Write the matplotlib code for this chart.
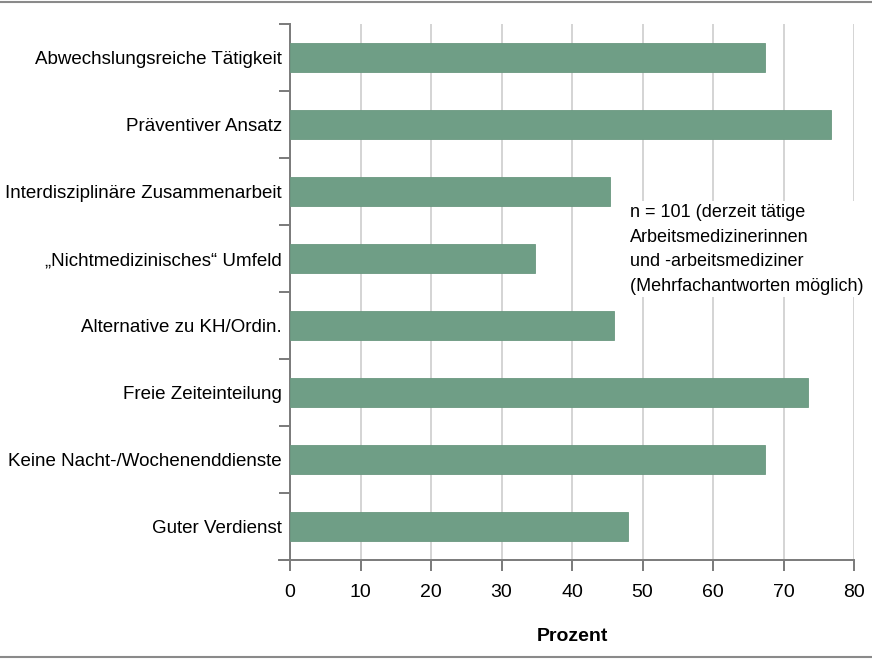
import numpy as np
import matplotlib.pyplot as plt
from matplotlib.lines import Line2D
from matplotlib.ticker import FixedLocator

plt.rcParams['font.family'] = ['Liberation Sans', 'DejaVu Sans']

# data
categories = ["Abwechslungsreiche Tätigkeit", "Präventiver Ansatz",
              "Interdisziplinäre Zusammenarbeit", "\u201eNichtmedizinisches\u201c Umfeld",
              "Alternative zu KH/Ordin.", "Freie Zeiteinteilung",
              "Keine Nacht-/Wochenenddienste", "Guter Verdienst"]
prozent = [67.4, 76.8, 45.4, 34.8, 45.9, 73.5, 67.4, 47.9]
xticks = [0, 10, 20, 30, 40, 50, 60, 70, 80]

bar_color = '#6f9e86'
spine_color = '#7a7a7a'
grid_color = '#d4d4d4'

fig = plt.figure(figsize=(8.72, 6.6), dpi=100)
ax = fig.add_axes([290/872, 1 - 560/660, 564/872, 536/660])

y = np.arange(len(categories))
ax.barh(y, prozent, height=0.42, color=bar_color, edgecolor='#6a9880', linewidth=0.6, zorder=3)

ax.set_xlim(0, 80)
ax.set_ylim(len(categories) - 0.5, -0.5)

ax.set_xticks(xticks)
ax.set_xticklabels([str(t) for t in xticks], fontsize=14)
ax.xaxis.grid(True, color=grid_color, linewidth=1.4, zorder=0)
ax.tick_params(axis='x', length=8, width=1.4, color=spine_color, pad=9)

ax.set_yticks(y)
ax.set_yticklabels(categories, fontsize=13.5)
ax.yaxis.set_minor_locator(FixedLocator(np.arange(-0.5, len(categories), 1.0)))
ax.tick_params(axis='y', which='major', length=0, pad=6)
ax.tick_params(axis='y', which='minor', length=8, width=1.4, color=spine_color)

for side in ['top', 'right']:
    ax.spines[side].set_visible(False)
for side in ['left', 'bottom']:
    ax.spines[side].set_color(spine_color)
    ax.spines[side].set_linewidth(1.4)
ax.spines['bottom'].set_bounds(-1.5, 80)
ax.spines['bottom'].set_clip_on(False)
ax.set_xlim(0, 80)

ax.set_xlabel('Prozent', fontsize=14, fontweight='bold', labelpad=20)

fig.text(630/872, 1 - 204/660,
         "n = 101 (derzeit tätige\nArbeitsmedizinerinnen\nund -arbeitsmediziner\n(Mehrfachantworten möglich)",
         fontsize=13, va='top', ha='left', linespacing=1.58,
         bbox=dict(facecolor='white', edgecolor='none', pad=2))

fig.add_artist(Line2D([0, 1], [1 - 1.5/660, 1 - 1.5/660], color='#8a8a8a', linewidth=1.5))
fig.add_artist(Line2D([0, 1], [1 - 657/660, 1 - 657/660], color='#8a8a8a', linewidth=1.5))

fig.savefig('out.png', dpi=100)
